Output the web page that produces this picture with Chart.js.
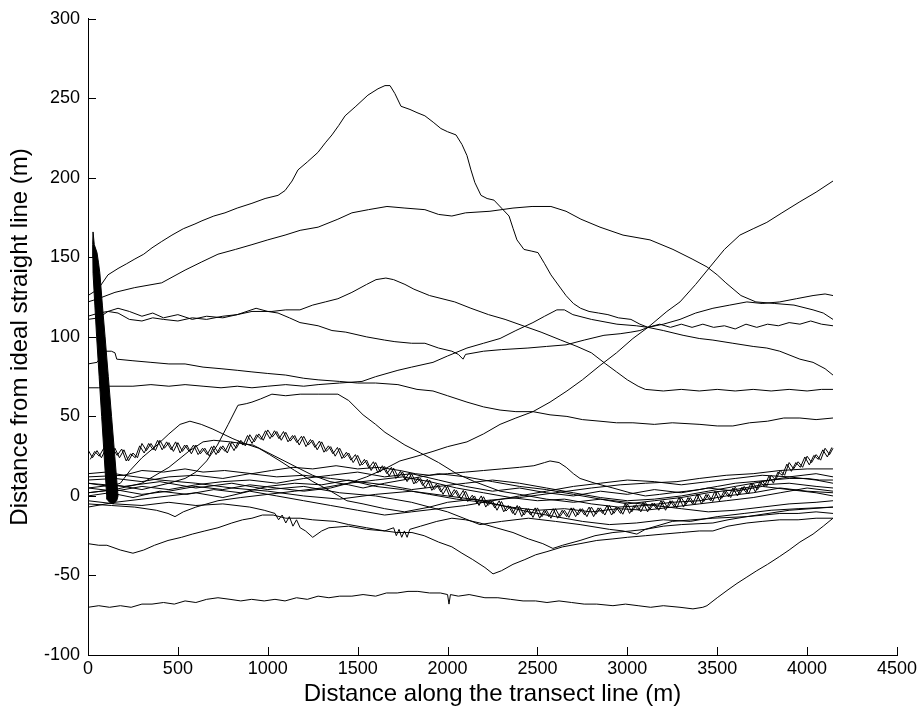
<!DOCTYPE html>
<html>
<head>
<meta charset="utf-8">
<script src="https://cdn.jsdelivr.net/npm/chart.js@4.4.1/dist/chart.umd.min.js"></script>
<style>
  html, body { margin: 0; padding: 0; background: #fff; }
  canvas { display: block; }
</style>
</head>
<body>
<canvas id="chart" width="921" height="717"></canvas>
<script>
// axis ticks
const xTickValues = [0, 500, 1000, 1500, 2000, 2500, 3000, 3500, 4000, 4500];
const yTickValues = [-100, -50, 0, 50, 100, 150, 200, 250, 300];

// transects: [distance along line (m), offset from straight line (m)]
const peakLine = [[0,126],[56,130],[111,139],[167,143],[215,146],[261,149],[310,152],[356,156],[410,160],[467,164],[530,168],[595,171],[634,173],[700,176],[762,178],[830,181],[912,184],[985,187],[1057,189],[1096,192],[1135,198],[1168,205],[1220,210],[1279,216],[1320,222],[1357,227],[1395,233],[1430,239],[1490,245],[1557,252],[1613,256],[1652,258],[1680,258],[1707,253],[1741,245],[1791,243],[1830,241],[1874,239],[1920,235],[1963,231],[2000,229],[2047,227],[2080,221],[2108,214],[2130,205],[2152,197],[2186,189],[2220,187],[2258,186],[2300,181],[2342,176],[2365,168],[2386,161],[2425,155],[2465,154],[2503,153],[2540,146],[2575,139],[2620,132],[2659,126],[2700,121],[2740,118],[2787,116],[2840,115],[2892,114],[2950,112],[3020,111],[3070,108],[3115,106],[3180,108],[3240,106],[3300,108],[3360,106],[3420,108],[3480,106],[3540,107],[3600,105],[3660,108],[3720,106],[3780,108],[3840,107],[3900,109],[3960,108],[4020,110],[4080,108],[4144,107]];
const upperArc = [[0,122],[56,124],[150,128],[260,131],[410,134],[540,142],[630,147],[723,152],[820,155],[912,158],[1000,161],[1096,164],[1180,167],[1280,169],[1390,174],[1468,178],[1560,180],[1663,182],[1763,181],[1874,180],[1950,177],[2024,176],[2100,178],[2236,179],[2364,181],[2470,182],[2575,182],[2659,179],[2742,174],[2848,169],[2976,164],[3126,161],[3254,155],[3360,149],[3443,144],[3500,139],[3548,134],[3632,126],[3715,122],[3820,121],[3927,120],[4033,117],[4090,115],[4144,111]];
const humpLine137 = [[0,113],[60,115],[111,116],[167,118],[230,116],[300,113],[360,115],[420,112],[500,114],[580,111],[660,113],[750,112],[830,114],[912,116],[1023,116],[1100,117],[1179,117],[1250,120],[1320,122],[1390,124],[1468,128],[1550,133],[1602,136],[1657,137],[1700,136],[1763,133],[1813,130],[1900,126],[2040,122],[2130,118],[2228,114],[2320,111],[2420,107],[2520,103],[2630,98],[2720,94],[2800,90],[2880,83],[2940,78],[3000,73],[3060,69],[3100,67],[3200,66],[3300,67],[3400,66],[3500,67],[3600,66],[3700,67],[3800,66],[3900,67],[4000,66],[4080,67],[4144,67]];
const flatLine113 = [[0,111],[60,112],[111,116],[167,115],[230,111],[300,110],[360,112],[420,111],[500,110],[580,112],[660,111],[750,113],[830,114],[935,118],[1000,116],[1057,115],[1120,112],[1179,109],[1280,107],[1357,104],[1434,103],[1550,100],[1650,98],[1707,97],[1800,96],[1874,96],[1950,93],[2024,91],[2060,89],[2086,86],[2100,89],[2200,91],[2300,92],[2447,93],[2550,94],[2659,95],[2760,98],[2870,101],[2960,102],[3020,103],[3070,104],[3115,106],[3200,108],[3293,111],[3380,115],[3476,118],[3570,120],[3665,122],[3750,121],[3848,122],[3940,124],[4033,126],[4100,127],[4144,126]];
const stepLine85 = [[0,83],[50,84],[95,91],[130,91],[150,90],[160,86],[250,85],[350,84],[450,83],[540,83],[640,81],[740,80],[830,79],[912,78],[1000,77],[1100,76],[1200,74],[1280,73],[1400,72],[1500,71],[1600,71],[1724,70],[1830,67],[1919,66],[2000,63],[2108,59],[2200,56],[2292,54],[2380,53],[2475,53],[2570,51],[2664,50],[2750,48],[2848,47],[2940,46],[3031,46],[3150,45],[3250,46],[3404,45],[3500,44],[3587,44],[3680,46],[3780,47],[3870,49],[3960,49],[4050,48],[4144,49]];
const lowLine68 = [[0,68],[60,68],[118,69],[250,69],[350,70],[450,69],[540,70],[640,69],[740,68],[830,69],[912,68],[1000,69],[1100,70],[1200,69],[1280,70],[1400,71],[1524,72],[1600,75],[1724,79],[1800,81],[1919,84],[2000,88],[2108,93],[2200,96],[2292,99],[2380,104],[2475,109],[2540,113],[2608,117],[2650,117],[2697,114],[2800,111],[2942,108],[3050,107],[3115,106],[3200,104],[3310,101],[3400,99],[3476,98],[3587,96],[3700,94],[3776,93],[3848,91],[3960,86],[4033,84],[4100,80],[4144,76]];
const risingLine = [[0,2],[150,4],[300,1],[450,3],[600,6],[750,4],[900,7],[1050,5],[1200,3],[1350,5],[1450,8],[1550,12],[1650,17],[1735,22],[1830,25],[1919,28],[2000,31],[2108,34],[2200,39],[2292,45],[2380,49],[2475,53],[2570,59],[2664,66],[2750,73],[2848,82],[2940,90],[3031,99],[3115,106],[3220,116],[3293,122],[3380,133],[3460,144],[3540,155],[3626,164],[3700,168],[3776,172],[3860,178],[3960,185],[4050,191],[4144,198]];
const plateauLine = [[0,5],[150,7],[300,4],[450,8],[540,11],[600,15],[660,22],[720,32],[780,45],[834,57],[880,58],[912,59],[960,61],[1023,64],[1100,63],[1180,64],[1280,64],[1390,64],[1450,60],[1530,51],[1600,45],[1652,40],[1763,32],[1850,27],[1950,21],[2050,14],[2150,9],[2292,3],[2400,1],[2550,-2],[2700,-4],[2850,-2],[3000,-5],[3150,-3],[3300,-1],[3450,2],[3600,4],[3750,7],[3900,8],[4050,6],[4144,5]];
const hillLine45 = [[0,8],[60,7],[120,6],[180,8],[234,16],[300,24],[384,32],[450,39],[512,45],[567,47],[630,45],[695,42],[750,39],[806,36],[870,33],[950,30],[1010,26],[1068,22],[1150,16],[1251,9],[1350,3],[1440,-3],[1530,-5],[1650,-8],[1760,-10],[1900,-7],[2000,-4],[2150,-2],[2300,-6],[2450,-10],[2600,-13],[2750,-16],[2900,-18],[3050,-17],[3200,-15],[3350,-16],[3500,-13],[3650,-11],[3800,-9],[3950,-8],[4144,-7]];
const troughLine = [[0,-30],[60,-31],[105,-31],[180,-34],[250,-36],[310,-34],[370,-31],[445,-28],[520,-26],[580,-24],[650,-22],[723,-20],[800,-17],[860,-15],[912,-14],[970,-12],[1030,-12],[1100,-14],[1180,-14],[1250,-15],[1373,-16],[1450,-18],[1550,-20],[1652,-22],[1720,-23],[1802,-23],[1870,-25],[1950,-29],[2024,-32],[2080,-36],[2140,-40],[2208,-45],[2253,-49],[2300,-47],[2364,-43],[2430,-40],[2490,-37],[2553,-35],[2640,-32],[2737,-30],[2830,-28],[2920,-27],[3000,-26],[3100,-25],[3198,-24],[3300,-23],[3400,-22],[3476,-22],[3560,-19],[3665,-17],[3750,-16],[3848,-15],[3950,-15],[4050,-14],[4144,-14]];
const bottomLine70 = [[0,-70],[60,-69],[120,-70],[180,-69],[240,-70],[300,-68],[356,-68],[420,-67],[480,-68],[540,-66],[600,-67],[660,-65],[723,-64],[790,-65],[850,-66],[910,-65],[980,-66],[1040,-65],[1096,-66],[1160,-64],[1220,-65],[1280,-63],[1340,-64],[1400,-63],[1468,-63],[1530,-62],[1600,-63],[1660,-61],[1720,-61],[1780,-60],[1835,-60],[1900,-61],[1960,-61],[2000,-62],[2008,-68],[2016,-62],[2060,-63],[2120,-62],[2208,-64],[2280,-64],[2350,-65],[2420,-66],[2490,-66],[2553,-67],[2620,-66],[2690,-67],[2760,-68],[2830,-68],[2920,-69],[2990,-68],[3060,-69],[3130,-70],[3200,-69],[3293,-70],[3365,-71],[3420,-70],[3443,-69],[3500,-64],[3560,-59],[3610,-55],[3665,-51],[3720,-47],[3780,-43],[3848,-38],[3900,-34],[3960,-29],[4033,-24],[4090,-19],[4144,-14]];
// dense oscillating start of one transect: its outline, drawn as a filled shape
const startWedge = [[28,166],[35,158],[50,153],[58,147],[66,140],[80,120],[95,100],[113,75],[131,50],[149,25],[167,0],[160,-3],[140,-5],[120,-4],[105,-2],[104,0],[90,25],[76,50],[62,75],[48,100],[38,120],[28,140],[27,150],[26,158],[28,166]];
const jaggedBand = [[0,29],[25,24],[50,28.5],[75,24],[100,30],[125,25.5],[150,30],[175,24],[200,29],[225,22],[250,27],[275,24],[300,33],[325,28.5],[350,33],[375,28.5],[400,35],[425,30],[450,33.5],[475,28],[500,33.5],[525,28],[550,32],[575,26.5],[600,32],[625,26.5],[650,30],[675,25],[700,31.5],[725,27],[750,31.5],[775,27],[800,34],[825,30],[850,35],[875,31.5],[900,38.5],[925,34],[950,39],[975,35],[1000,41.5],[1025,37],[1050,40.5],[1075,35],[1100,40],[1125,34.5],[1150,38],[1175,32],[1200,37.5],[1225,32],[1250,35],[1275,29],[1300,34],[1325,28],[1350,31],[1375,25],[1400,30],[1425,24],[1450,27],[1475,21],[1500,25.5],[1525,19.5],[1550,22.5],[1575,16],[1600,21],[1625,15],[1650,18.5],[1675,12.5],[1700,17.5],[1725,12],[1750,15],[1775,9],[1800,14],[1825,8],[1850,11],[1875,5],[1900,10],[1925,4],[1950,7],[1975,1],[2000,6],[2025,0],[2050,3.5],[2075,-2],[2100,3],[2125,-3],[2150,0],[2175,-6],[2200,-0.5],[2225,-6],[2250,-3],[2275,-9],[2300,-3.5],[2325,-9.5],[2350,-6.5],[2375,-12],[2400,-6.5],[2425,-12],[2450,-8],[2475,-13.5],[2500,-7.5],[2525,-13],[2550,-9],[2575,-14],[2600,-8],[2625,-13],[2650,-9],[2675,-13.5],[2700,-7.5],[2725,-12],[2750,-8],[2775,-13],[2800,-7],[2825,-11.5],[2850,-7.5],[2875,-12],[2900,-6],[2925,-11],[2950,-7],[2975,-11.5],[3000,-5],[3025,-10],[3050,-5.5],[3075,-10],[3100,-4],[3125,-8.5],[3150,-4.5],[3175,-9],[3200,-3],[3225,-7.5],[3250,-3],[3275,-7.5],[3300,-1],[3325,-5.5],[3350,-1],[3375,-5.5],[3400,1],[3425,-3.5],[3450,1],[3475,-3.5],[3500,3],[3525,-1.5],[3550,3],[3575,-1],[3600,5.5],[3625,1],[3650,6],[3675,1.5],[3700,8],[3725,4],[3750,9.5],[3775,6],[3800,13],[3825,10],[3850,16],[3875,13],[3900,21],[3925,17],[3950,21.5],[3975,18],[4000,25],[4025,21],[4050,26],[4075,22.5],[4100,30],[4125,26],[4144,30]];
const jaggedBandTwin = [[12.5,23],[37.5,28],[62.5,25],[87.5,30],[112.5,24],[137.5,30],[162.5,25.5],[187.5,29.5],[212.5,22],[237.5,26.5],[262.5,24],[287.5,31.5],[312.5,27],[337.5,33],[362.5,29],[387.5,35],[412.5,29],[437.5,34],[462.5,29],[487.5,34],[512.5,27],[537.5,32],[562.5,28],[587.5,32],[612.5,26],[637.5,30],[662.5,26],[687.5,31],[712.5,26],[737.5,31],[762.5,28],[787.5,33.5],[812.5,28.5],[837.5,34.5],[862.5,32],[887.5,38],[912.5,33],[937.5,38.5],[962.5,35.5],[987.5,41],[1012.5,36],[1037.5,41],[1062.5,36],[1087.5,40.5],[1112.5,34],[1137.5,38],[1162.5,33.5],[1187.5,37.5],[1212.5,31],[1237.5,35.5],[1262.5,30.5],[1287.5,34.5],[1312.5,27.5],[1337.5,31.5],[1362.5,26.5],[1387.5,30.5],[1412.5,23.5],[1437.5,27.5],[1462.5,22.5],[1487.5,26],[1512.5,19],[1537.5,23],[1562.5,17.5],[1587.5,21.5],[1612.5,14.5],[1637.5,19],[1662.5,14],[1687.5,18],[1712.5,11],[1737.5,15.5],[1762.5,10.5],[1787.5,14.5],[1812.5,7.5],[1837.5,11.5],[1862.5,6.5],[1887.5,10.5],[1912.5,3.5],[1937.5,7.5],[1962.5,2.5],[1987.5,6.5],[2012.5,-0.5],[2037.5,4],[2062.5,-1],[2087.5,3.5],[2112.5,-3.5],[2137.5,0.5],[2162.5,-4.5],[2187.5,0],[2212.5,-7],[2237.5,-2.5],[2262.5,-7.5],[2287.5,-3],[2312.5,-10],[2337.5,-6],[2362.5,-11],[2387.5,-6],[2412.5,-13],[2437.5,-8],[2462.5,-12],[2487.5,-7.5],[2512.5,-14],[2537.5,-9],[2562.5,-13],[2587.5,-8],[2612.5,-14],[2637.5,-9],[2662.5,-13],[2687.5,-7.5],[2712.5,-13],[2737.5,-8],[2762.5,-12],[2787.5,-7],[2812.5,-13],[2837.5,-7.5],[2862.5,-11],[2887.5,-6],[2912.5,-12],[2937.5,-7],[2962.5,-11],[2987.5,-5],[3012.5,-11],[3037.5,-6],[3062.5,-9],[3087.5,-4],[3112.5,-10],[3137.5,-4.5],[3162.5,-8],[3187.5,-3],[3212.5,-9],[3237.5,-3],[3262.5,-7],[3287.5,-1],[3312.5,-7],[3337.5,-1],[3362.5,-5],[3387.5,1],[3412.5,-5],[3437.5,1],[3462.5,-3],[3487.5,3],[3512.5,-3],[3537.5,3],[3562.5,-0.5],[3587.5,5],[3612.5,0],[3637.5,5.5],[3662.5,2],[3687.5,8],[3712.5,2.5],[3737.5,9],[3762.5,6],[3787.5,12.5],[3812.5,8],[3837.5,15],[3862.5,13],[3887.5,20],[3912.5,15.5],[3937.5,21],[3962.5,18],[3987.5,24.5],[4012.5,19.5],[4037.5,25.5],[4062.5,23],[4087.5,29],[4112.5,24.5],[4137.5,30.5]];
const humpLine20 = [[0,14],[100,15],[200,13],[300,16],[420,15],[540,17],[640,15],[760,16],[912,14],[1020,16],[1140,18],[1250,17],[1380,19],[1500,17],[1620,18],[1735,16],[1820,14],[1900,13],[2000,14],[2100,15],[2200,16],[2300,17],[2400,18],[2480,19],[2540,21],[2570,22],[2620,21],[2660,18],[2700,14],[2737,11],[2820,8],[2920,5],[3015,2],[3100,0],[3180,1],[3250,2],[3330,3],[3400,4],[3500,6],[3600,8],[3700,9],[3800,10],[3900,11],[4000,11],[4070,10],[4144,10]];
const vLine3050 = [[0,8],[200,6],[400,9],[600,5],[800,8],[1000,4],[1200,6],[1400,2],[1600,0],[1800,-4],[2000,-10],[2180,-18],[2300,-16],[2450,-14],[2600,-16],[2737,-18],[2900,-21],[2976,-22],[3053,-24],[3100,-21],[3250,-16],[3476,-14],[3665,-13],[3900,-9],[4144,-7]];
const vLine2580 = [[0,-3],[150,-5],[300,-6],[450,-4],[600,-6],[750,-5],[900,-7],[980,-9],[1040,-11],[1060,-15],[1080,-12],[1100,-17],[1120,-13],[1140,-19],[1160,-15],[1180,-20],[1210,-22],[1250,-26],[1300,-22],[1340,-20],[1450,-19],[1550,-21],[1650,-22],[1700,-20],[1715,-25],[1730,-21],[1745,-26],[1760,-22],[1775,-26],[1790,-21],[1850,-19],[1940,-16],[2024,-14],[2100,-15],[2180,-17],[2270,-20],[2364,-23],[2450,-27],[2530,-30],[2586,-33],[2640,-31],[2737,-28],[2820,-25],[2920,-23],[3020,-22],[3100,-21],[3200,-19],[3300,-18],[3476,-17],[3560,-15],[3665,-13],[3760,-12],[3848,-11],[3950,-11],[4050,-10],[4144,-11]];
const vLine480 = [[0,-5],[130,-6],[260,-7],[380,-9],[445,-11],[484,-13],[530,-10],[600,-7],[723,-3],[850,-1],[1000,1],[1150,3],[1300,5],[1450,8],[1600,10],[1750,12],[1900,9],[2050,5],[2200,2],[2350,-1],[2500,-3],[2650,-2],[2800,-5],[2950,-7],[3100,-6],[3250,-4],[3400,-3],[3550,0],[3700,2],[3850,5],[4000,3],[4144,2]];
const zeroLine = [[0,0],[120,2],[250,-1],[400,3],[550,1],[700,4],[850,2],[1000,6],[1150,8],[1300,7],[1450,10],[1600,6],[1750,4],[1900,1],[2050,-2],[2200,-4],[2350,-7],[2500,-9],[2650,-8],[2800,-10],[2950,-8],[3100,-9],[3250,-7],[3400,-5],[3550,-3],[3700,-1],[3850,2],[4000,5],[4144,3]];
const tenLine = [[0,10],[150,11],[300,9],[450,12],[600,13],[750,11],[900,14],[1050,12],[1200,13],[1350,11],[1500,9],[1650,7],[1800,4],[1950,6],[2100,8],[2250,10],[2400,8],[2550,5],[2700,2],[2850,-1],[3000,-3],[3150,-2],[3300,0],[3450,3],[3600,6],[3750,9],[3900,12],[4050,14],[4144,12]];
const fiveLine = [[0,5],[150,3],[300,6],[450,4],[600,7],[750,9],[900,10],[1050,8],[1200,11],[1350,13],[1500,15],[1650,12],[1800,14],[1950,10],[2100,6],[2250,3],[2400,5],[2550,2],[2700,0],[2850,3],[3000,1],[3150,4],[3300,2],[3450,5],[3600,3],[3750,6],[3900,4],[4050,2],[4144,0]];
const minusSevenLine = [[0,-7],[150,-4],[300,-2],[450,0],[600,2],[750,-1],[900,3],[1050,0],[1200,-3],[1350,-6],[1500,-9],[1650,-12],[1800,-10],[1950,-8],[2100,-6],[2250,-3],[2400,0],[2550,3],[2700,6],[2850,8],[3000,10],[3150,9],[3300,7],[3450,9],[3600,11],[3750,13],[3900,12],[4050,10],[4144,8]];
const endRiseLine = [[0,12],[200,13],[400,10],[600,8],[800,5],[1000,3],[1200,0],[1400,-2],[1600,1],[1800,3],[2000,0],[2200,-3],[2400,-1],[2600,2],[2800,5],[2960,7],[3100,8],[3276,9],[3400,11],[3550,13],[3700,14],[3850,16],[4000,17],[4144,17]];
const ridgeLine34 = [[0,2],[150,4],[300,8],[450,18],[560,28],[640,34],[700,35],[790,34],[918,32],[1040,25],[1162,18],[1250,13],[1346,9],[1450,7],[1530,5],[1650,8],[1800,11],[1950,14],[2100,12],[2250,9],[2400,6],[2550,4],[2700,1],[2850,-2],[3000,-4],[3150,-6],[3300,-8],[3450,-10],[3600,-9],[3750,-7],[3900,-5],[4050,-4],[4144,-3]];

const transects = [peakLine, upperArc, humpLine137, flatLine113, stepLine85, lowLine68, risingLine,
  plateauLine, hillLine45, troughLine, bottomLine70, jaggedBand, jaggedBandTwin, humpLine20, vLine3050,
  vLine2580, vLine480, zeroLine, tenLine, fiveLine, minusSevenLine, endRiseLine, ridgeLine34];

const FONT = "'Liberation Sans', Arial, Helvetica, sans-serif";

// ticks drawn inside the plot, like the original figure
const innerTicks = {
  id: 'innerTicks',
  afterDraw(chart) {
    const { ctx, chartArea: area, scales: { x, y } } = chart;
    ctx.save();
    ctx.strokeStyle = '#000';
    ctx.lineWidth = 1;
    ctx.beginPath();
    x.ticks.forEach(t => {
      const px = Math.round(x.getPixelForValue(t.value)) + 0.5;
      ctx.moveTo(px, area.bottom);
      ctx.lineTo(px, area.bottom - 8);
    });
    y.ticks.forEach(t => {
      const py = Math.round(y.getPixelForValue(t.value)) + 0.5;
      ctx.moveTo(area.left, py);
      ctx.lineTo(area.left + 8, py);
    });
    ctx.stroke();
    ctx.restore();
  }
};

const datasets = transects.map(points => ({
  data: points,
  showLine: true,
  borderColor: '#000',
  borderWidth: 1,
  pointRadius: 0,
  fill: false,
  tension: 0
}));
datasets.push({
  data: startWedge,
  showLine: true,
  borderColor: '#000',
  backgroundColor: '#000',
  borderWidth: 1,
  pointRadius: 0,
  fill: 'shape',
  tension: 0
});

new Chart(document.getElementById('chart'), {
  type: 'scatter',
  data: { datasets },
  options: {
    responsive: false,
    animation: false,
    devicePixelRatio: 1,
    layout: { padding: { top: 16, right: 24, left: 0, bottom: 0 } },
    plugins: { legend: { display: false }, tooltip: { enabled: false } },
    scales: {
      x: {
        type: 'linear',
        min: 0,
        max: 4500,
        afterBuildTicks: s => { s.ticks = xTickValues.map(v => ({ value: v })); },
        afterFit: s => { s.height = 62; },
        grid: { display: true, drawOnChartArea: false, drawTicks: false },
        border: { display: true, color: '#000', width: 1 },
        ticks: { color: '#000', padding: 3, maxRotation: 0, font: { family: FONT, size: 18 }, callback: v => String(v) },
        title: {
          display: true,
          text: 'Distance along the transect line (m)',
          color: '#000',
          font: { family: FONT, size: 24 },
          padding: { top: 0, bottom: 8 }
        }
      },
      y: {
        type: 'linear',
        min: -100,
        max: 300,
        afterBuildTicks: s => { s.ticks = yTickValues.map(v => ({ value: v })); },
        afterFit: s => { s.width = 88; },
        grid: { display: true, drawOnChartArea: false, drawTicks: false },
        border: { display: true, color: '#000', width: 1 },
        ticks: { color: '#000', padding: 8, font: { family: FONT, size: 18 }, callback: v => String(v) },
        title: {
          display: true,
          text: 'Distance from ideal straight line (m)',
          color: '#000',
          font: { family: FONT, size: 24 },
          padding: { top: 6, bottom: 0 }
        }
      }
    }
  },
  plugins: [innerTicks]
});
</script>
</body>
</html>
